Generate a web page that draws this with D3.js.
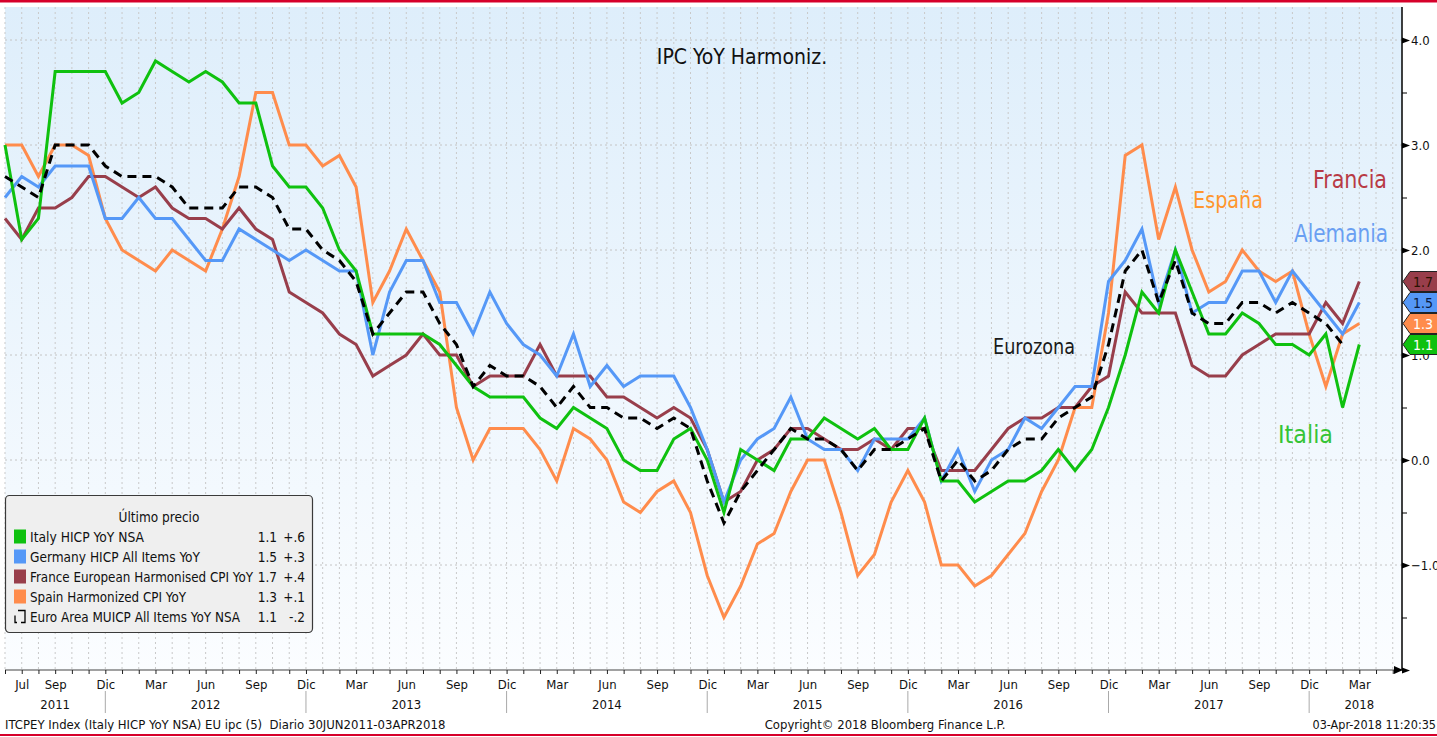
<!DOCTYPE html>
<html>
<head>
<meta charset="utf-8">
<script src="https://cdn.jsdelivr.net/npm/d3@7"></script>
<style>
  body { margin: 0; background: #fff; }
  svg { display: block; font-family: "DejaVu Sans Condensed", "Liberation Sans Narrow", sans-serif; }
  .tick text { font-family: "DejaVu Sans Condensed", "Liberation Sans Narrow", sans-serif; }
</style>
</head>
<body>
<div class="container"></div>
<script>
/* globals d3 */
// monthly, Jun 2011 .. Mar 2018
const months = d3.timeMonth.range(new Date(2011, 5, 1), new Date(2018, 3, 1));
const monthNames = ["Ene", "Feb", "Mar", "Abr", "May", "Jun", "Jul", "Ago", "Sep", "Oct", "Nov", "Dic"];

const italy = [3.0, 2.1, 2.3, 3.7, 3.7, 3.7, 3.7, 3.4, 3.5, 3.8, 3.7, 3.6, 3.7, 3.6, 3.4, 3.4, 2.8, 2.6, 2.6, 2.4,
  2.0, 1.8, 1.2, 1.2, 1.2, 1.2, 1.1, 0.9, 0.7, 0.6, 0.6, 0.6, 0.4, 0.3, 0.5, 0.4, 0.3, 0.0, -0.1, -0.1,
  0.2, 0.3, 0.0, -0.5, 0.1, 0.0, -0.1, 0.2, 0.2, 0.4, 0.3, 0.2, 0.3, 0.1, 0.1, 0.4, -0.2, -0.2, -0.4, -0.3,
  -0.2, -0.2, -0.1, 0.1, -0.1, 0.1, 0.5, 1.0, 1.6, 1.4, 2.0, 1.6, 1.2, 1.2, 1.4, 1.3, 1.1, 1.1, 1.0, 1.2,
  0.5, 1.1];
const germany = [2.5, 2.7, 2.6, 2.8, 2.8, 2.8, 2.3, 2.3, 2.5, 2.3, 2.3, 2.1, 1.9, 1.9, 2.2, 2.1, 2.0, 1.9, 2.0, 1.9,
  1.8, 1.8, 1.0, 1.6, 1.9, 1.9, 1.5, 1.5, 1.2, 1.6, 1.3, 1.1, 1.0, 0.8, 1.2, 0.7, 0.9, 0.7, 0.8, 0.8,
  0.8, 0.5, 0.1, -0.4, 0.0, 0.2, 0.3, 0.6, 0.2, 0.1, 0.1, -0.1, 0.2, 0.2, 0.2, 0.4, -0.2, 0.1, -0.3, 0.0,
  0.1, 0.4, 0.3, 0.5, 0.7, 0.7, 1.7, 1.9, 2.2, 1.5, 2.0, 1.4, 1.5, 1.5, 1.8, 1.8, 1.5, 1.8, 1.6, 1.4,
  1.2, 1.5];
const france = [2.3, 2.1, 2.4, 2.4, 2.5, 2.7, 2.7, 2.6, 2.5, 2.6, 2.4, 2.3, 2.3, 2.2, 2.4, 2.2, 2.1, 1.6, 1.5, 1.4,
  1.2, 1.1, 0.8, 0.9, 1.0, 1.2, 1.0, 1.0, 0.7, 0.8, 0.8, 0.8, 1.1, 0.8, 0.8, 0.8, 0.6, 0.6, 0.5, 0.4,
  0.5, 0.4, 0.1, -0.4, -0.3, 0.0, 0.1, 0.3, 0.3, 0.2, 0.1, 0.1, 0.2, 0.1, 0.3, 0.3, -0.1, -0.1, -0.1, 0.1,
  0.3, 0.4, 0.4, 0.5, 0.5, 0.7, 0.8, 1.6, 1.4, 1.4, 1.4, 0.9, 0.8, 0.8, 1.0, 1.1, 1.2, 1.2, 1.2, 1.5,
  1.3, 1.7];
const spain = [3.0, 3.0, 2.7, 3.0, 3.0, 2.9, 2.3, 2.0, 1.9, 1.8, 2.0, 1.9, 1.8, 2.2, 2.7, 3.5, 3.5, 3.0, 3.0, 2.8,
  2.9, 2.6, 1.5, 1.8, 2.2, 1.9, 1.6, 0.5, 0.0, 0.3, 0.3, 0.3, 0.1, -0.2, 0.3, 0.2, 0.0, -0.4, -0.5, -0.3,
  -0.2, -0.5, -1.1, -1.5, -1.2, -0.8, -0.7, -0.3, 0.0, 0.0, -0.5, -1.1, -0.9, -0.4, -0.1, -0.4, -1.0, -1.0, -1.2, -1.1,
  -0.9, -0.7, -0.3, 0.0, 0.5, 0.5, 1.4, 2.9, 3.0, 2.1, 2.6, 2.0, 1.6, 1.7, 2.0, 1.8, 1.7, 1.8, 1.2, 0.7,
  1.2, 1.3];
// euro area has no Mar 2018 print yet
const euro = [2.7, 2.6, 2.5, 3.0, 3.0, 3.0, 2.8, 2.7, 2.7, 2.7, 2.6, 2.4, 2.4, 2.4, 2.6, 2.6, 2.5, 2.2, 2.2, 2.0,
  1.9, 1.7, 1.2, 1.4, 1.6, 1.6, 1.3, 1.1, 0.7, 0.9, 0.8, 0.8, 0.7, 0.5, 0.7, 0.5, 0.5, 0.4, 0.4, 0.3,
  0.4, 0.3, -0.2, -0.6, -0.3, -0.1, 0.1, 0.3, 0.2, 0.2, 0.1, -0.1, 0.1, 0.1, 0.2, 0.3, -0.2, 0.0, -0.2, -0.1,
  0.1, 0.2, 0.2, 0.4, 0.5, 0.6, 1.1, 1.8, 2.0, 1.5, 1.9, 1.4, 1.3, 1.3, 1.5, 1.5, 1.4, 1.5, 1.4, 1.3,
  1.1];

const seriesNames = ["Italy HICP YoY NSA", "Germany HICP All Items YoY", "France European Harmonised CPI YoY",
  "Spain Harmonized CPI YoY", "Euro Area MUICP All Items YoY NSA"];
const seriesColors = ["#0fc10f", "#5598f7", "#983e4b", "#ff8c4c", "#000000"];
const lastValues = ["1.1", "1.5", "1.7", "1.3", "1.1"];
const changes = ["+.6", "+.3", "+.4", "+.1", "-.2"];
const yTicks = [-2, -1, 0, 1, 2, 3, 4];
const yMinor = [-1.5, -0.5, 0.5, 1.5, 2.5, 3.5];

const allSeries = [italy, germany, france, spain, euro];

const w = 1437;
const h = 737;
const plotLeft = 5, plotRight = 1402, plotTop = 7, plotBottom = 670;

const svg = d3.select(".container")
  .append("svg")
  .attr("width", w)
  .attr("height", h);

const defs = svg.append("defs");
const grad = defs.append("linearGradient")
  .attr("id", "bg")
  .attr("x1", 0).attr("y1", 0).attr("x2", 0).attr("y2", 1);
grad.append("stop").attr("offset", "0%").attr("stop-color", "#deeefb");
grad.append("stop").attr("offset", "100%").attr("stop-color", "#fbfdff");

// red frame lines
svg.append("rect").attr("x", 0).attr("y", 0).attr("width", w).attr("height", 2.5).attr("fill", "#d6002a");
svg.append("rect").attr("x", 0).attr("y", 734).attr("width", w).attr("height", 2).attr("fill", "#d6002a");

svg.append("rect")
  .attr("x", plotLeft).attr("y", plotTop)
  .attr("width", plotRight - plotLeft).attr("height", plotBottom - plotTop)
  .attr("fill", "url(#bg)");

const xScale = d3.scaleLinear()
  .domain([0, 81])
  .range([5, 1359.3]);

const yScale = d3.scaleLinear()
  .domain([-2, 4.3])
  .range([plotBottom, plotBottom - 6.3 * 105]);

// grid
const monthIdx = d3.range(0, 84);
const gridIdx = monthIdx.filter((i) => xScale(i) < plotRight - 2);
svg.append("g")
  .selectAll("line")
  .data(gridIdx)
  .enter()
  .append("line")
  .attr("x1", (d) => xScale(d)).attr("x2", (d) => xScale(d))
  .attr("y1", plotTop).attr("y2", plotBottom)
  .attr("stroke", "#c9c9c9")
  .attr("stroke-width", 1)
  .attr("stroke-dasharray", "2,3");

svg.append("g")
  .selectAll("line")
  .data([-1, 0, 1, 2, 3, 4])
  .enter()
  .append("line")
  .attr("x1", plotLeft).attr("x2", plotRight)
  .attr("y1", (d) => yScale(d)).attr("y2", (d) => yScale(d))
  .attr("stroke", "#c4c4c4")
  .attr("stroke-width", 1)
  .attr("stroke-dasharray", "2,3");

// title
svg.append("text")
  .attr("x", 742).attr("y", 64)
  .attr("text-anchor", "middle")
  .attr("font-size", 21)
  .attr("fill", "#111")
  .text("IPC YoY Harmoniz.");

// lines
const line = d3.line()
  .x((d, i) => xScale(i))
  .y((d) => yScale(d));

const order = [3, 2, 1, 0, 4];
order.forEach((k) => {
  svg.append("path")
    .datum(allSeries[k])
    .attr("d", line)
    .attr("fill", "none")
    .attr("stroke", seriesColors[k])
    .attr("stroke-width", 3)
    .attr("stroke-linejoin", "miter")
    .attr("stroke-dasharray", k === 4 ? "9,6" : null);
});

// annotations (widths)
const notes = [
  { t: "Francia", x: 1313, y: 188, c: "#b83a45", s: 25, len: 74 },
  { t: "España", x: 1193, y: 208, c: "#ff962e", s: 23, len: 70 },
  { t: "Alemania", x: 1294, y: 242, c: "#6a9ff2", s: 24, len: 94 },
  { t: "Eurozona", x: 993, y: 354, c: "#1a1a1a", s: 21, len: 82 },
  { t: "Italia", x: 1278, y: 443, c: "#35c435", s: 24, len: 55 }
];
svg.append("g")
  .selectAll("text")
  .data(notes)
  .enter()
  .append("text")
  .attr("x", (d) => d.x).attr("y", (d) => d.y)
  .attr("font-size", (d) => d.s)
  .attr("fill", (d) => d.c)
  .attr("textLength", (d) => d.len)
  .attr("lengthAdjust", "spacingAndGlyphs")
  .text((d) => d.t);

// right axis
const yAxis = d3.axisRight(yScale)
  .tickValues(yTicks)
  .tickSize(0)
  .tickPadding(9)
  .tickFormat((d) => d === -2 ? "" : d3.format(".1f")(d));
const yg = svg.append("g")
  .attr("transform", "translate(" + plotRight + ",0)")
  .call(yAxis);
yg.select(".domain").attr("stroke", "#000").attr("stroke-width", 1.5).attr("d", "M0," + plotTop + "V" + plotBottom);
yg.selectAll(".tick text").attr("font-size", 13).attr("fill", "#111");
yg.selectAll(".tick").append("path")
  .attr("d", "M0,-3L8,0L0,3Z")
  .attr("fill", "#000");

const yMinorAxis = d3.axisRight(yScale)
  .tickValues(yMinor)
  .tickSize(5)
  .tickFormat("");
const ym = svg.append("g")
  .attr("transform", "translate(" + plotRight + ",0)")
  .call(yMinorAxis);
ym.select(".domain").remove();

// bottom axis
const xAxis = d3.axisBottom(xScale)
  .tickValues(gridIdx)
  .tickSize(4)
  .tickFormat("");
const xg = svg.append("g")
  .attr("transform", "translate(0," + plotBottom + ")")
  .call(xAxis);
xg.select(".domain").attr("stroke", "#444").attr("d", "M" + plotLeft + ",0H" + plotRight);
xg.selectAll(".tick line").attr("stroke", "#222");
svg.append("path")
  .attr("d", "M" + (plotRight - 8) + "," + (plotBottom - 4) + "L" + (plotRight + 1) + "," + plotBottom + "L" + (plotRight - 8) + "," + (plotBottom + 4) + "Z")
  .attr("fill", "#000");

const labelIdx = d3.range(1, 82).filter((i) => i === 1 || months[i].getMonth() % 3 === 2);
const xLabelAxis = d3.axisBottom(xScale)
  .tickValues(labelIdx)
  .tickSize(0)
  .tickPadding(10)
  .tickFormat((i) => monthNames[months[i].getMonth()]);
const xl = svg.append("g")
  .attr("transform", "translate(0," + plotBottom + ")")
  .call(xLabelAxis);
xl.select(".domain").remove();
xl.selectAll(".tick text").attr("font-size", 13).attr("fill", "#111");

// year labels and separators
const years = [2011, 2012, 2013, 2014, 2015, 2016, 2017, 2018];
const yearPos = years.map((y) => {
  if (y === 2011) return 3;
  if (y === 2018) return 81;
  return months.findIndex((m) => m.getFullYear() === y && m.getMonth() === 5);
});
svg.append("g")
  .selectAll("text")
  .data(years)
  .enter()
  .append("text")
  .attr("x", (d, i) => xScale(yearPos[i]))
  .attr("y", 709)
  .attr("text-anchor", "middle")
  .attr("font-size", 13)
  .attr("fill", "#111")
  .text((d) => d);

const decIdx = d3.range(0, 82).filter((i) => months[i].getMonth() === 11);
svg.append("g")
  .selectAll("line")
  .data(decIdx)
  .enter()
  .append("line")
  .attr("x1", (d) => xScale(d)).attr("x2", (d) => xScale(d))
  .attr("y1", 691).attr("y2", 713)
  .attr("stroke", "#aaa")
  .attr("stroke-width", 1);

// value tags on right axis
const tagOrder = [2, 1, 3, 0];
const tagText = ["#fff", "#0a1a40", "#2a1200", "#fff"];
tagOrder.forEach((k) => {
  const cy = yScale(+lastValues[k]);
  svg.append("path")
    .attr("d", "M" + (plotRight + 1) + "," + cy + "L" + (plotRight + 8) + "," + (cy - 10) + "L" + (w + 2) + "," + (cy - 10) +
      "L" + (w + 2) + "," + (cy + 10) + "L" + (plotRight + 8) + "," + (cy + 10) + "Z")
    .attr("fill", seriesColors[k])
    .attr("stroke", "#222")
    .attr("stroke-width", 1);
  svg.append("text")
    .attr("x", plotRight + 11).attr("y", cy + 5)
    .attr("font-size", 14)
    .attr("fill", tagText[k])
    .text(lastValues[k]);
});

// legend
const legend = svg.append("g").attr("id", "legend");
legend.append("rect")
  .attr("x", 5.5).attr("y", 495.5)
  .attr("width", 307).attr("height", 137)
  .attr("rx", 4)
  .attr("fill", "#efefef")
  .attr("stroke", "#3a3a3a")
  .attr("stroke-width", 1.2);
legend.append("text")
  .attr("x", 159).attr("y", 522)
  .attr("text-anchor", "middle")
  .attr("font-size", 13.5)
  .attr("fill", "#111")
  .text("Último precio");
const nameLen = [114, 170, 223, 156, 210];
seriesNames.forEach((name, k) => {
  const cy = 536.5 + k * 20;
  if (k < 4) {
    legend.append("rect")
      .attr("x", 14).attr("y", cy - 7)
      .attr("width", 12).attr("height", 14)
      .attr("fill", seriesColors[k]);
  } else {
    legend.append("path")
      .attr("d", "M18," + (cy - 6) + "H25V" + (cy + 6) + "H21M17," + (cy + 6) + "H15V" + (cy - 1))
      .attr("fill", "none")
      .attr("stroke", "#000")
      .attr("stroke-width", 1.3);
  }
  legend.append("text")
    .attr("x", 30).attr("y", cy + 5)
    .attr("font-size", 13.5)
    .attr("fill", "#111")
    .attr("textLength", nameLen[k])
    .attr("lengthAdjust", "spacingAndGlyphs")
    .text(name);
  legend.append("text")
    .attr("x", 277).attr("y", cy + 5)
    .attr("text-anchor", "end")
    .attr("font-size", 13.5)
    .attr("fill", "#111")
    .text(lastValues[k]);
  legend.append("text")
    .attr("x", 305).attr("y", cy + 5)
    .attr("text-anchor", "end")
    .attr("font-size", 13.5)
    .attr("fill", "#111")
    .text(changes[k]);
});

// footer
svg.append("text")
  .attr("x", 5).attr("y", 729)
  .attr("font-size", 13)
  .attr("fill", "#111")
  .style("white-space", "pre")
  .text("ITCPEY Index (Italy HICP YoY NSA) EU ipc (5)  Diario 30JUN2011-03APR2018");
svg.append("text")
  .attr("x", 885).attr("y", 729)
  .attr("text-anchor", "middle")
  .attr("font-size", 13)
  .attr("fill", "#111")
  .text("Copyright© 2018 Bloomberg Finance L.P.");
svg.append("text")
  .attr("x", 1436).attr("y", 729)
  .attr("text-anchor", "end")
  .attr("font-size", 12.5)
  .attr("fill", "#111")
  .text("03-Apr-2018 11:20:35");
</script>
</body>
</html>
